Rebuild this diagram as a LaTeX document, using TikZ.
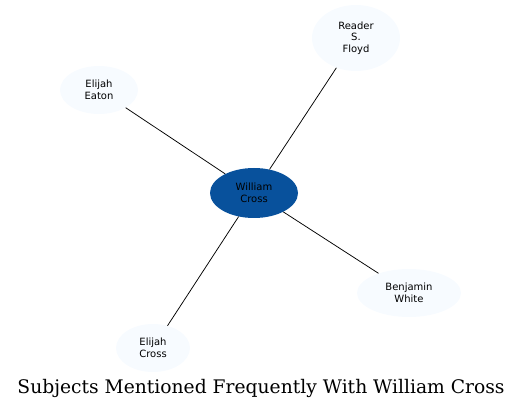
\documentclass[tikz,border=0pt]{standalone}
\usepackage{fontspec}
\newfontfamily\labelfont{DejaVu Sans}
\newfontfamily\titlefont{DejaVu Serif}
\usetikzlibrary{shapes.geometric}
\definecolor{hubblue}{HTML}{08519C}
\definecolor{leafblue}{HTML}{F7FBFF}
\definecolor{ink}{HTML}{000000}
\tikzset{
  subject/.style={ellipse,draw=none,fill=leafblue,inner sep=0pt,align=center,
                  font=\labelfont\fontsize{10}{11.5}\selectfont,text=ink},
  hub/.style={subject,fill=hubblue},
  link/.style={draw=ink,line width=0.75pt}
}
\begin{document}
\begin{tikzpicture}[x=1pt,y=-1pt]
    \path[use as bounding box] (0,0) rectangle (523,409);

    \node[hub,minimum width=88pt,minimum height=50pt] (william) at (254,193)
      {William\\Cross};
    \node[subject,minimum width=88pt,minimum height=66pt] (reader) at (356,38)
      {Reader\\S.\\Floyd};
    \node[subject,minimum width=78pt,minimum height=48pt] (eaton) at (99,90)
      {Elijah\\Eaton};
    \node[subject,minimum width=104pt,minimum height=48pt] (white) at (409,293)
      {Benjamin\\White};
    \node[subject,minimum width=74pt,minimum height=48pt] (ecross) at (153,348)
      {Elijah\\Cross};

    \draw[link] (william) -- (reader);
    \draw[link] (william) -- (eaton);
    \draw[link] (william) -- (white);
    \draw[link] (william) -- (ecross);

    \node[font=\titlefont\fontsize{18.7}{22}\selectfont] (title) at (261,388)
      {Subjects Mentioned Frequently With William Cross};
  \end{tikzpicture}
\end{document}
